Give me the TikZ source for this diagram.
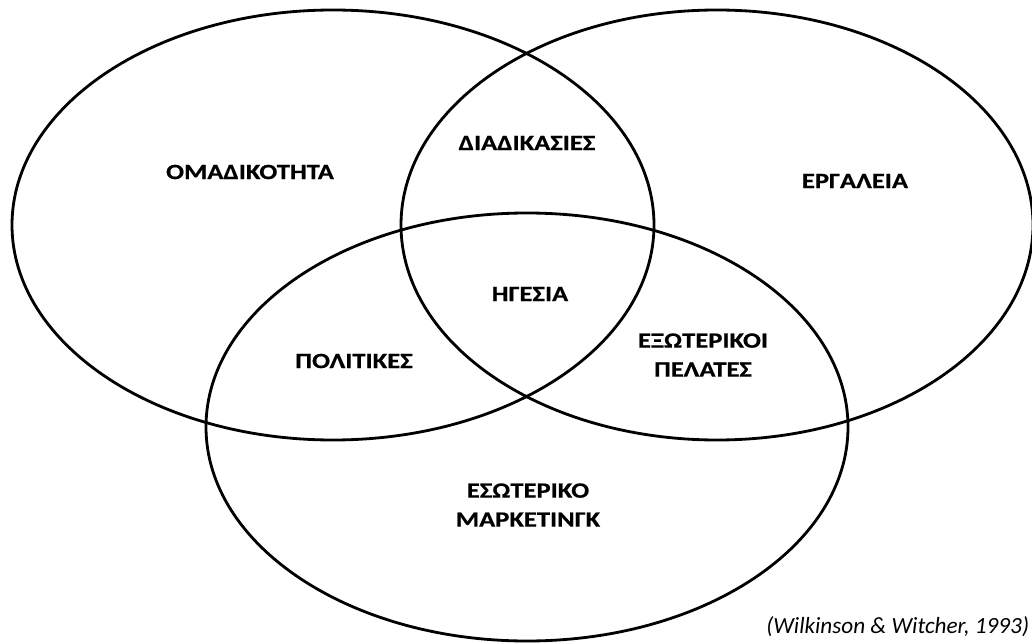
\documentclass[tikz,border=0pt]{standalone}
\usepackage{fontspec}
\setmainfont{Carlito}
\newfontfamily\vennfont{Carlito}[FakeStretch=1.22, FakeBold=0.6]
\tikzset{
    venn/.style={draw=black, line width=2pt},
    area/.style={font=\vennfont\bfseries\fontsize{15.5}{20.6}\selectfont, align=center, inner sep=0pt}
}
\begin{document}
\begin{tikzpicture}[x=0.025cm, y=-0.025cm]
    \useasboundingbox (0,0) rectangle (1032,643);
    % the three sets
    \draw[venn] (333,225) ellipse [x radius=321, y radius=215];
    \draw[venn] (717,225) ellipse [x radius=316, y radius=215];
    \draw[venn] (527,427) ellipse [x radius=321, y radius=214];
    % labels
    \node[area] (omad) at (250,172) {ΟΜΑΔΙΚΟΤΗΤΑ};
    \node[area] (diad) at (527,143) {ΔΙΑΔΙΚΑΣΙΕΣ};
    \node[area] (ergal) at (855,181) {ΕΡΓΑΛΕΙΑ};
    \node[area] (hges) at (530,294) {ΗΓΕΣΙΑ};
    \node[area] (polit) at (354,361) {ΠΟΛΙΤΙΚΕΣ};
    \node[area] (pelat) at (703,355) {ΕΞΩΤΕΡΙΚΟΙ\\ΠΕΛΑΤΕΣ};
    \node[area] (mark) at (528,505) {ΕΣΩΤΕΡΙΚΟ\\ΜΑΡΚΕΤΙΝΓΚ};
    \node[anchor=west, inner sep=0pt, font=\itshape\fontsize{16.5}{20}\selectfont] (cite) at (766,627) {(Wilkinson \& Witcher, 1993)};
\end{tikzpicture}
\end{document}
